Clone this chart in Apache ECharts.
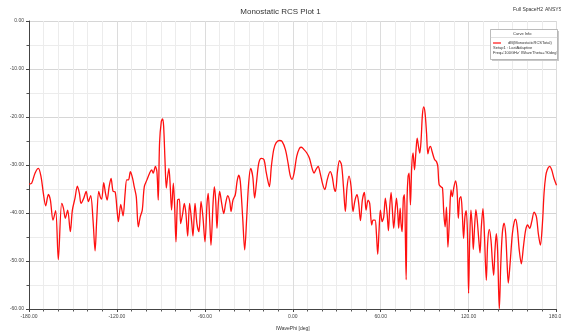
<!DOCTYPE html>
<html>
<head>
<meta charset="utf-8">
<script src="https://cdn.jsdelivr.net/npm/echarts@6/dist/echarts.min.js"></script>
<style>html,body{margin:0;padding:0;background:#fff}#c{width:561px;height:333px}</style>
</head>
<body>
<div id="c"></div>
<script>
const titleText = 'Monostatic RCS Plot 1';
const seriesName = 'dB(MonostaticRCSTotal)';
const xAxisName = 'IWavePhi [deg]';
const yAxisName = 'dB(MonostaticRCSTotal)';
const setupText = 'Setup1 : LastAdaptive';
const freqText = "Freq='100GHz' IWaveTheta='90deg'";

const phi = [
-180,-178.2,-175.9,-173.6,-171.8,-170.2,-168.6,-166.8,-165.4,-163.6,-161.8,-160.0,-157.7,-156.5,-155.2,-153.6,-151.8,-150.4,-148.6,-147.0,
-145.6,-144.5,-142.6,-141.0,-139.5,-137.9,-136.3,-134.9,-133.8,-132.4,-131.3,-130.4,-129.0,-127.8,-126.7,-125.3,-124.0,-122.6,-121.2,-119.9,
-119.0,-117.4,-115.8,-114.4,-113.3,-112.1,-110.8,-109.3,-108.2,-106.8,-105.4,-104.1,-102.7,-101.3,-99.5,-97.7,-96.3,-95.2,-93.8,-92.7,
-91.8,-90.9,-89.7,-88.8,-88.1,-87.2,-86.3,-85.4,-84.5,-83.6,-82.7,-81.5,-80.6,-79.7,-78.6,-77.4,-76.5,-75.1,-74.0,-72.9,
-71.7,-70.4,-69.0,-68.1,-66.7,-65.4,-64.0,-62.6,-61.3,-59.9,-58.5,-57.7,-56.7,-55.8,-54.4,-53.5,-52.6,-51.7,-50.8,-49.9,
-48.5,-47.1,-45.8,-44.4,-43.0,-42.1,-40.8,-39.2,-38.0,-36.9,-35.8,-34.2,-32.8,-31.4,-30.1,-28.7,-27.3,-26.0,-24.8,-23.2,
-21.4,-19.6,-18.2,-16.9,-15.9,-14.6,-13.0,-11.4,-9.1,-7.3,-5.0,-3.2,-1.8,-0.5,0.9,2.7,4.6,5.9,7.7,9.6,
11.4,13.2,14.6,15.9,17.3,18.7,20.5,21.9,23.5,25.5,26.9,28.2,29.2,30.5,31.9,33.3,34.6,35.9,37.0,38.4,
39.8,41.1,42.5,43.9,45.0,46.2,47.5,48.9,50.0,51.4,52.5,53.9,54.8,56.2,57.1,58.0,58.9,59.8,61.0,62.1,
63.2,64.4,65.3,66.2,67.1,68.0,68.9,70.1,70.8,71.7,72.3,73.3,73.9,74.6,75.5,76.2,76.9,77.4,78.0,78.7,
79.4,80.3,81.2,82.1,83.1,84.0,84.9,85.8,86.7,87.6,88.5,89.4,90.3,91.3,92.2,93.1,94.0,95.1,96.7,98.1,
99.0,99.9,101.3,102.2,103.1,104.0,104.9,105.9,107.0,108.0,108.9,109.8,111.1,112.1,113.0,113.9,114.8,115.7,116.6,117.5,
118.4,119.3,120.0,120.7,121.6,122.5,123.2,124.1,125.0,125.9,126.9,127.8,128.7,129.8,130.7,132.1,133.0,134.1,135.3,136.2,
137.1,138.0,138.9,139.8,140.5,141.0,141.9,143.0,144.2,145.3,146.2,147.1,148.3,149.9,151.2,152.1,153.3,154.6,156.0,157.4,
158.9,160.3,161.7,163.1,164.7,166.3,167.6,169.0,170.4,171.5,172.6,173.7,175.4,176.7,178.3,180.0
];
const rcs = [
-34.0,-33.8,-31.7,-30.7,-32.4,-35.9,-38.5,-36.1,-37.3,-41.5,-39.5,-49.7,-38.0,-39.0,-41.1,-39.4,-43.9,-39.4,-36.9,-34.4,
-35.9,-38.0,-36.9,-35.5,-37.6,-36.4,-41.5,-47.9,-41.5,-35.5,-36.7,-37.1,-33.7,-35.9,-37.3,-34.5,-32.8,-35.5,-35.6,-39.4,
-41.8,-38.2,-40.6,-35.9,-33.1,-33.1,-31.4,-32.8,-34.5,-36.6,-42.9,-40.8,-39.4,-34.5,-33.1,-31.7,-31.0,-31.7,-30.3,-31.4,
-37.3,-25.4,-20.9,-20.4,-22.0,-28.9,-34.8,-32.4,-30.7,-34.5,-39.4,-33.8,-38.7,-46.0,-37.3,-37.1,-42.2,-40.1,-38.0,-40.1,
-44.8,-38.0,-41.8,-44.8,-38.0,-42.2,-43.9,-37.6,-40.8,-46.0,-38.0,-35.9,-41.5,-46.7,-38.0,-34.5,-37.3,-43.2,-38.0,-35.5,
-38.0,-40.1,-38.0,-36.4,-37.6,-39.7,-37.3,-36.2,-33.4,-32.1,-33.4,-40.8,-47.7,-40.8,-33.8,-30.7,-32.4,-36.9,-33.8,-29.6,
-28.6,-28.9,-31.4,-33.4,-34.5,-30.3,-26.8,-25.4,-24.9,-25.1,-26.8,-29.6,-32.1,-33.0,-31.7,-28.2,-26.5,-26.3,-26.8,-27.5,
-28.6,-30.7,-31.7,-30.9,-30.3,-31.7,-34.1,-35.1,-33.1,-31.4,-32.4,-34.8,-35.5,-31.4,-29.1,-30.0,-34.5,-39.7,-34.8,-32.3,
-34.5,-39.7,-37.3,-36.2,-38.0,-41.6,-37.3,-35.7,-39.4,-37.3,-38.0,-42.5,-41.5,-41.5,-44.3,-48.6,-43.6,-39.4,-41.8,-40.8,
-36.9,-40.1,-43.7,-38.7,-35.7,-39.4,-43.2,-38.7,-36.9,-40.1,-43.2,-39.0,-42.2,-43.9,-36.9,-36.2,-45.6,-53.9,-37.3,-32.4,
-31.7,-38.3,-30.3,-27.5,-31.0,-27.5,-24.4,-26.1,-27.5,-24.7,-19.5,-17.9,-19.2,-23.3,-27.7,-26.5,-26.1,-27.2,-28.8,-29.3,
-30.3,-34.1,-34.6,-34.8,-40.1,-42.9,-38.8,-47.1,-40.8,-35.2,-36.6,-34.9,-33.3,-35.2,-41.1,-37.0,-36.6,-40.1,-45.3,-40.8,
-39.5,-45.0,-56.7,-46.4,-39.4,-42.9,-47.6,-42.9,-39.3,-41.5,-45.3,-48.3,-42.9,-39.1,-43.6,-54.0,-46.4,-43.4,-45.7,-49.9,
-53.0,-47.8,-44.3,-47.8,-56.1,-59.9,-51.3,-44.3,-42.1,-44.3,-49.9,-54.6,-50.6,-44.3,-41.8,-41.3,-43.2,-47.8,-50.6,-47.1,
-43.6,-42.5,-43.2,-41.8,-39.8,-40.8,-44.3,-46.7,-42.2,-35.9,-32.4,-31.0,-30.3,-31.0,-32.8,-34.2
];

const data = phi.map((p, i) => [p, rcs[i]]);
const FONT = '"Liberation Sans", Arial, sans-serif';
const chart = echarts.init(document.getElementById('c'), null, {renderer: 'canvas'});
chart.setOption({
  animation: false,
  backgroundColor: '#fff',
  title: {
    text: titleText, left: 'center', top: 3,
    textStyle: {fontFamily: FONT, fontSize: 8, fontWeight: 'normal', color: '#333'}
  },
  legend: {
    data: [seriesName], left: 493, top: 41, padding: 0, z: 50, zlevel: 0,
    icon: 'rect', itemWidth: 8, itemHeight: 1.2, itemGap: 2,
    textStyle: {fontFamily: FONT, fontSize: 4, color: '#333', padding: [0, 0, 0, 2]}
  },
  grid: {left: 29, right: 4.5, top: 21, bottom: 24, containLabel: false, outerBoundsMode: 'none'},
  xAxis: {
    type: 'value', min: -180, max: 180, interval: 60,
    name: xAxisName, nameLocation: 'middle', nameGap: 17,
    nameTextStyle: {fontFamily: FONT, fontSize: 5, color: '#333'},
    axisLine: {onZero: false, lineStyle: {color: '#444', width: 1}},
    axisTick: {show: true, length: 3, lineStyle: {color: '#444'}},
    minorTick: {show: true, splitNumber: 6, length: 2.5, lineStyle: {color: '#555'}},
    axisLabel: {fontFamily: FONT, fontSize: 5, color: '#444', margin: 5, formatter: v => v.toFixed(2)},
    splitLine: {show: true, lineStyle: {color: '#dcdcdc', width: 1}},
    minorSplitLine: {show: true, lineStyle: {color: '#ececec', width: 1}}
  },
  yAxis: {
    type: 'value', min: -60, max: 0, interval: 10,
    name: yAxisName, nameLocation: 'middle', nameGap: 20, nameRotate: 90,
    nameTextStyle: {fontFamily: FONT, fontSize: 5, color: '#333'},
    axisLine: {show: true, onZero: false, lineStyle: {color: '#444', width: 1}},
    axisTick: {show: true, length: 3, lineStyle: {color: '#444'}},
    minorTick: {show: true, splitNumber: 2, length: 2.5, lineStyle: {color: '#555'}},
    axisLabel: {fontFamily: FONT, fontSize: 5, color: '#444', margin: 5, formatter: v => v.toFixed(2)},
    splitLine: {show: true, lineStyle: {color: '#d6d6d6', width: 1}},
    minorSplitLine: {show: true, lineStyle: {color: '#ececec', width: 1}}
  },
  series: [{
    name: seriesName, type: 'line', data: data,
    showSymbol: false, smooth: 0.3, clip: true,
    lineStyle: {color: '#ff1010', width: 1.3},
    itemStyle: {color: '#ff1010'}
  }],
  graphic: [
    {type: 'text', left: 513, top: 7, style: {text: 'Full SpaceH2', font: '5px ' + FONT, fill: '#333'}},
    {type: 'text', left: 545, top: 7, style: {text: 'ANSYS', font: '5px ' + FONT, fill: '#333'}},
    {type: 'rect', z: 9, shape: {x: 492, y: 31, width: 67, height: 30}, style: {fill: '#c8c8c8'}},
    {type: 'rect', z: 10, shape: {x: 490.5, y: 29.5, width: 67, height: 30}, style: {fill: '#fff', stroke: '#aaa', lineWidth: 0.8}},
    {type: 'text', z: 11, left: 513, top: 31.5, style: {text: 'Curve Info', font: '4px ' + FONT, fill: '#333'}},
    {type: 'line', z: 11, shape: {x1: 490.5, y1: 37.5, x2: 557.5, y2: 37.5}, style: {stroke: '#ccc', lineWidth: 0.6}},
    {type: 'text', z: 11, left: 493, top: 46, style: {text: setupText, font: '4px ' + FONT, fill: '#333'}},
    {type: 'text', z: 11, left: 493, top: 51, style: {text: freqText, font: '4px ' + FONT, fill: '#333'}}
  ]
});
</script>
</body>
</html>
